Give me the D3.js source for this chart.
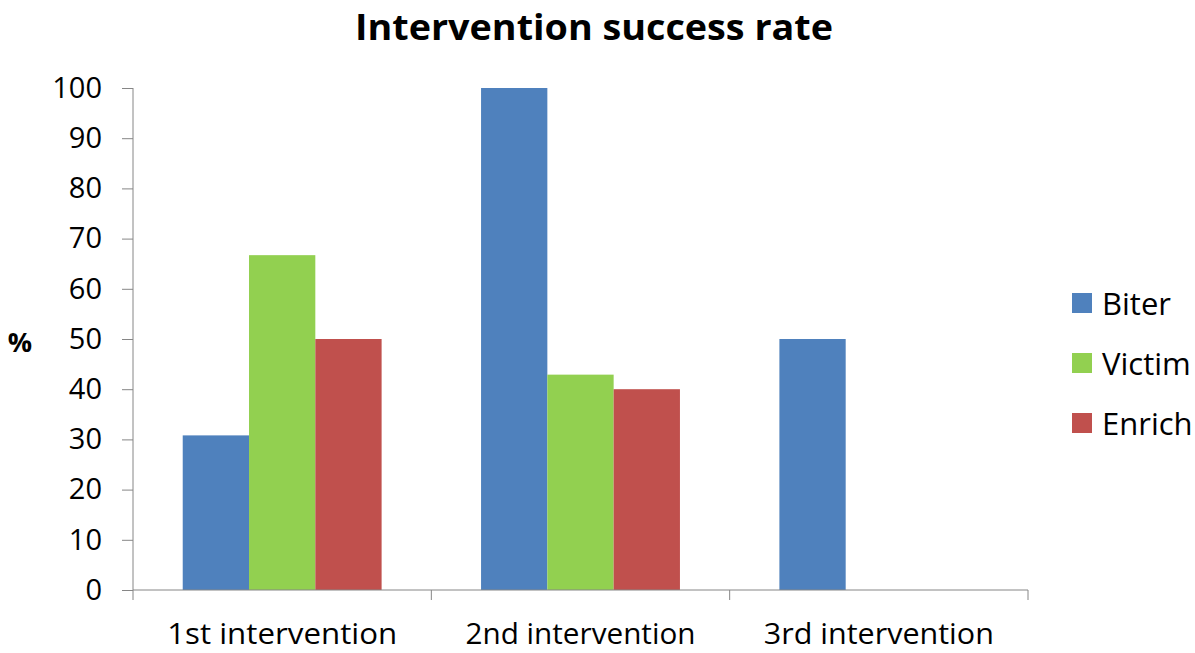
<!DOCTYPE html>
<html><head><meta charset="utf-8">
<script src="https://cdn.jsdelivr.net/npm/d3@7"></script>
<style>body{margin:0;background:#fff}svg{display:block}text{font-family:"Open Sans",sans-serif}</style>
</head><body><svg id="c" width="1195" height="653"></svg>
<script>
const categories = ["1st intervention", "2nd intervention", "3rd intervention"];
const seriesNames = ["Biter", "Victim", "Enrich"];
const biter = [30.8, 100, 50];
const victim = [66.7, 42.9, 0];
const enrich = [50, 40, 0];
const yTicks = [0,10,20,30,40,50,60,70,80,90,100];
const colors = ["#4f81bd", "#92d050", "#c0504d"];
const series = [biter, victim, enrich];

const svg = d3.select("#c");
const x0 = d3.scaleBand().domain(categories).range([133, 1028]).paddingInner(0).paddingOuter(0);
const x1 = d3.scaleBand().domain(seriesNames).range([0, x0.bandwidth()]).paddingInner(0).paddingOuter(0.75);
const y = d3.scaleLinear().domain([0, 100]).range([590, 88]);

// bars
categories.forEach((c, ci) => {
  seriesNames.forEach((s, si) => {
    const v = series[si][ci];
    if (v > 0) {
      svg.append("rect")
        .attr("x", x0(c) + x1(s))
        .attr("y", y(v))
        .attr("width", x1.bandwidth())
        .attr("height", y(0) - y(v))
        .attr("fill", colors[si]);
    }
  });
});

// y axis
const yAxis = svg.append("g").attr("transform", "translate(133,0)")
  .call(d3.axisLeft(y).tickValues(yTicks).tickSize(11).tickPadding(20));
yAxis.select(".domain").attr("stroke", "#868686").attr("d", "M0," + y(100) + "V" + y(0));
yAxis.selectAll(".tick line").attr("stroke", "#868686");
yAxis.selectAll(".tick text").attr("font-size", 29).attr("fill", "#000").attr("font-family", "Open Sans");

// x axis
const xAxis = svg.append("g").attr("transform", "translate(0,590)")
  .call(d3.axisBottom(x0).tickSize(0).tickPadding(33));
xAxis.select(".domain").attr("stroke", "#868686").attr("d", "M133,0H1028");
xAxis.selectAll(".tick text").attr("font-size", 30).attr("fill", "#000").attr("font-family", "Open Sans")
  .attr("textLength", 230).attr("lengthAdjust", "spacingAndGlyphs");
const bounds = [133].concat(categories.map(c => x0(c) + x0.bandwidth()));
svg.selectAll("line.xt").data(bounds).enter().append("line")
  .attr("x1", d => d).attr("x2", d => d).attr("y1", 590).attr("y2", 600)
  .attr("stroke", "#868686");

// title
svg.append("text").attr("x", 594).attr("y", 40).attr("text-anchor", "middle")
  .attr("font-size", 35).attr("font-weight", "bold")
  .attr("textLength", 478).attr("lengthAdjust", "spacingAndGlyphs")
  .text("Intervention success rate");

// y label
svg.append("text").attr("x", 20).attr("y", 352).attr("text-anchor", "middle")
  .attr("font-size", 27).attr("font-weight", "bold").text("%");

// legend
const lg = svg.append("g");
seriesNames.forEach((s, i) => {
  const cy = 303 + i * 60;
  lg.append("rect").attr("x", 1072).attr("y", cy - 10).attr("width", 20).attr("height", 20).attr("fill", colors[i]);
  lg.append("text").attr("x", 1102).attr("y", cy + 12).attr("font-size", 31).text(s);
});
</script></body></html>
